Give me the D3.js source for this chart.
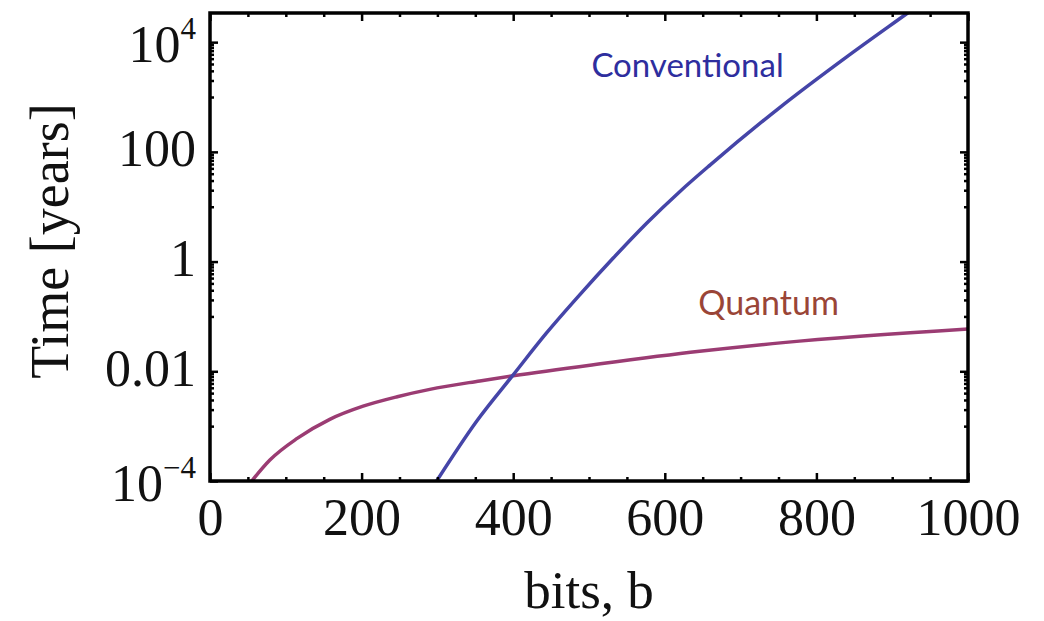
<!DOCTYPE html>
<html>
<head>
<meta charset="utf-8">
<script src="https://cdn.jsdelivr.net/npm/d3@7"></script>
<style>
body { margin: 0; background: #fff; }
</style>
</head>
<body>
<svg id="chart"></svg>
<script>
// values (bits -> years)
var convBits  = [299, 352, 400, 444, 488, 532, 576, 620, 660, 752, 840, 919, 950];
var convYears = [1e-4, 1.24e-3, 8.6e-3, 0.050, 0.25, 1.16, 5.0, 19, 58, 650, 5400, 33000, 67000];

var quantBits  = [55, 79, 115, 158, 202, 247, 290, 356, 400, 515, 646, 756, 1000];
var quantYears = [1e-4, 2.41e-4, 5.97e-4, 1.33e-3, 2.31e-3, 3.44e-3, 4.68e-3, 6.68e-3, 8.3e-3, 0.0137, 0.0231, 0.0333, 0.059];

var xTicks = [0, 200, 400, 600, 800, 1000];
var xMinor = [50, 100, 150, 250, 300, 350, 450, 500, 550, 650, 700, 750, 850, 900, 950];
var yTicks = [1e-4, 1e-2, 1, 1e2, 1e4];
var yTickBase = ["10", "0.01", "1", "100", "10"];
var yTickSup  = ["\u22124", "", "", "", "4"];
var yMinorDecades = [1e-3, 1e-1, 10, 1e3];

var W = 1044, H = 621;
var svg = d3.select("#chart").attr("width", W).attr("height", H);
svg.append("rect").attr("width", W).attr("height", H).attr("fill", "#fff");

var x = d3.scaleLinear().domain([0, 1000]).range([210, 968]);
var y = d3.scaleLog().domain([1e-4, 3.4e4]).range([481, 13]);

// minor log ticks: 1..9 x decade below each labelled tick
var yMinor = [];
yMinorDecades.forEach(function(d) {
	for (var j = 1; j <= 9; j++) yMinor.push(j * d);
});

var serif = "'Liberation Serif', 'Times New Roman', serif";

// curves, clipped to the frame
svg.append("clipPath").attr("id", "plotClip").append("rect")
	.attr("x", 210).attr("y", 13).attr("width", 758).attr("height", 468);

var line = d3.line().x(function(d) { return x(d[0]); }).y(function(d) { return y(d[1]); }).curve(d3.curveMonotoneX);

var curves = svg.append("g").attr("clip-path", "url(#plotClip)");
curves.append("path").datum(d3.zip(quantBits, quantYears)).attr("d", line)
	.attr("fill", "none").attr("stroke", "#9b3c73").attr("stroke-width", 3.5);
curves.append("path").datum(d3.zip(convBits, convYears)).attr("d", line)
	.attr("fill", "none").attr("stroke", "#4545a8").attr("stroke-width", 3.5);

// ticks (all pointing in)
function ticks(axis, tr, vals, size) {
	var g = svg.append("g").attr("transform", tr)
		.call(axis.tickValues(vals).tickSize(-size).tickFormat(""));
	g.select(".domain").remove();
	g.selectAll("line").attr("stroke", "#000").attr("stroke-width", 2.5);
	return g;
}
ticks(d3.axisBottom(x), "translate(0,481)", xMinor, 4);
ticks(d3.axisTop(x), "translate(0,13)", xMinor, 4);
ticks(d3.axisTop(x), "translate(0,13)", xTicks, 8);
ticks(d3.axisLeft(y), "translate(210,0)", yMinor, 4);
ticks(d3.axisRight(y), "translate(968,0)", yMinor, 4);
ticks(d3.axisRight(y), "translate(968,0)", yTicks, 8);

var xAx = ticks(d3.axisBottom(x), "translate(0,481)", xTicks, 8);
xAx.selectAll("text")
	.text(function(d) { return d; })
	.attr("y", 54).attr("dy", null)
	.attr("fill", "#111").style("font-family", serif).style("font-size", "52px");

var yAx = ticks(d3.axisLeft(y), "translate(210,0)", yTicks, 8);
yAx.selectAll("text").each(function(d) {
	var i = yTicks.indexOf(d);
	var t = d3.select(this).text("").attr("x", -14).attr("dy", null)
		.attr("y", yTickSup[i] ? 19 : 14)
		.attr("fill", "#111").style("font-family", serif).style("font-size", "52px");
	t.append("tspan").text(yTickBase[i]);
	if (yTickSup[i]) t.append("tspan").attr("dy", -23).style("font-size", "31px").text(yTickSup[i]);
});

// frame
svg.append("rect").attr("x", 210).attr("y", 13).attr("width", 758).attr("height", 468)
	.attr("fill", "none").attr("stroke", "#000").attr("stroke-width", 3.5);

// axis titles
svg.append("text").attr("x", 589).attr("y", 608).attr("text-anchor", "middle")
	.style("font-family", serif).style("font-size", "53px").attr("fill", "#111").text("bits, b");
svg.append("text").attr("transform", "translate(68,241) rotate(-90)").attr("text-anchor", "middle")
	.style("font-family", serif).style("font-size", "54px").attr("fill", "#111").text("Time [years]");

// curve labels
svg.append("text").attr("x", x(630)).attr("y", y(2300)).attr("text-anchor", "middle")
	.style("font-family", "Lato, 'Open Sans', sans-serif").style("font-size", "33px")
	.attr("fill", "#2e2e9e").text("Conventional");
svg.append("text").attr("x", x(737)).attr("y", y(0.106)).attr("text-anchor", "middle")
	.style("font-family", "Lato, 'Open Sans', sans-serif").style("font-size", "34px")
	.attr("fill", "#9a4537").text("Quantum");
</script>
</body>
</html>
